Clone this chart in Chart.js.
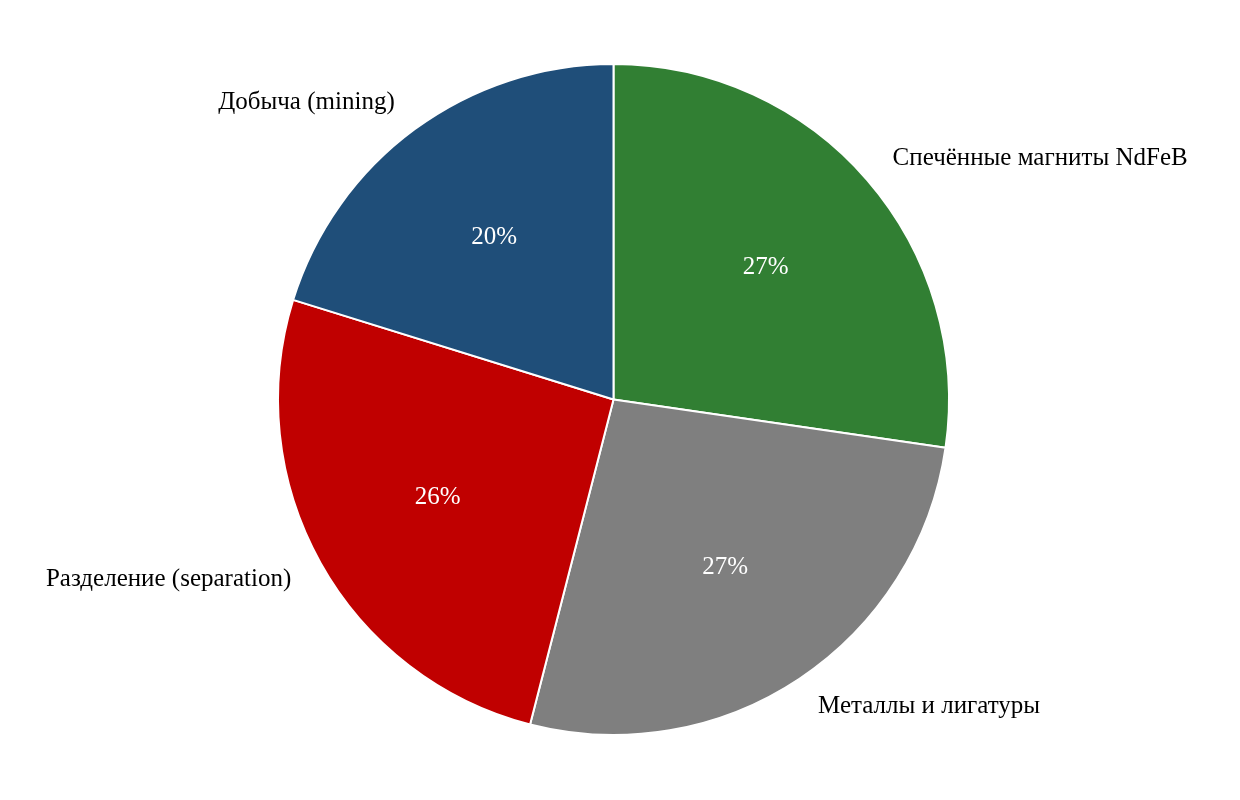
<!DOCTYPE html>
<html>
<head>
<meta charset="utf-8">
<script src="https://cdn.jsdelivr.net/npm/chart.js@4.4.1/dist/chart.umd.min.js"></script>
<style>
  html, body { margin: 0; padding: 0; background: #fff; }
  #wrap { width: 1240px; height: 800px; }
</style>
</head>
<body>
<div id="wrap"><canvas id="chartPie" width="1240" height="800"></canvas></div>
<script>
const stages = ["Спечённые магниты NdFeB", "Металлы и лигатуры", "Разделение (separation)", "Добыча (mining)"];
const shares = [27.3, 26.7, 25.8, 20.2];
const shareLabels = ["27%", "27%", "26%", "20%"];
const colors = ["#317f33", "#7f7f7f", "#c00000", "#1f4e79"];

const FONT = "'Liberation Serif', 'Times New Roman', serif";

// labels: name outside the slice, percent inside
const sliceLabels = {
  id: "sliceLabels",
  afterDatasetsDraw(chart) {
    const ctx = chart.ctx;
    const meta = chart.getDatasetMeta(0);
    ctx.save();
    ctx.textBaseline = "middle";
    meta.data.forEach((arc, i) => {
      const mid = (arc.startAngle + arc.endAngle) / 2;
      const r = arc.outerRadius;
      const cos = Math.cos(mid), sin = Math.sin(mid);

      ctx.font = "25px " + FONT;
      ctx.fillStyle = "#ffffff";
      ctx.textAlign = "center";
      ctx.fillText(shareLabels[i], arc.x + cos * r * 0.6, arc.y + sin * r * 0.6);

      ctx.fillStyle = "#000000";
      ctx.textAlign = cos >= 0 ? "left" : "right";
      ctx.fillText(stages[i], arc.x + cos * r * 1.1, arc.y + sin * r * 1.1);
    });
    ctx.restore();
  }
};

new Chart(document.getElementById("chartPie"), {
  type: "pie",
  data: {
    labels: stages,
    datasets: [{
      data: shares,
      backgroundColor: colors,
      borderColor: "#ffffff",
      borderWidth: 2
    }]
  },
  options: {
    responsive: false,
    animation: false,
    layout: { padding: { top: 63, bottom: 64, left: 200, right: 213 } },
    plugins: {
      legend: { display: false },
      tooltip: { enabled: false }
    }
  },
  plugins: [sliceLabels]
});
</script>
</body>
</html>
